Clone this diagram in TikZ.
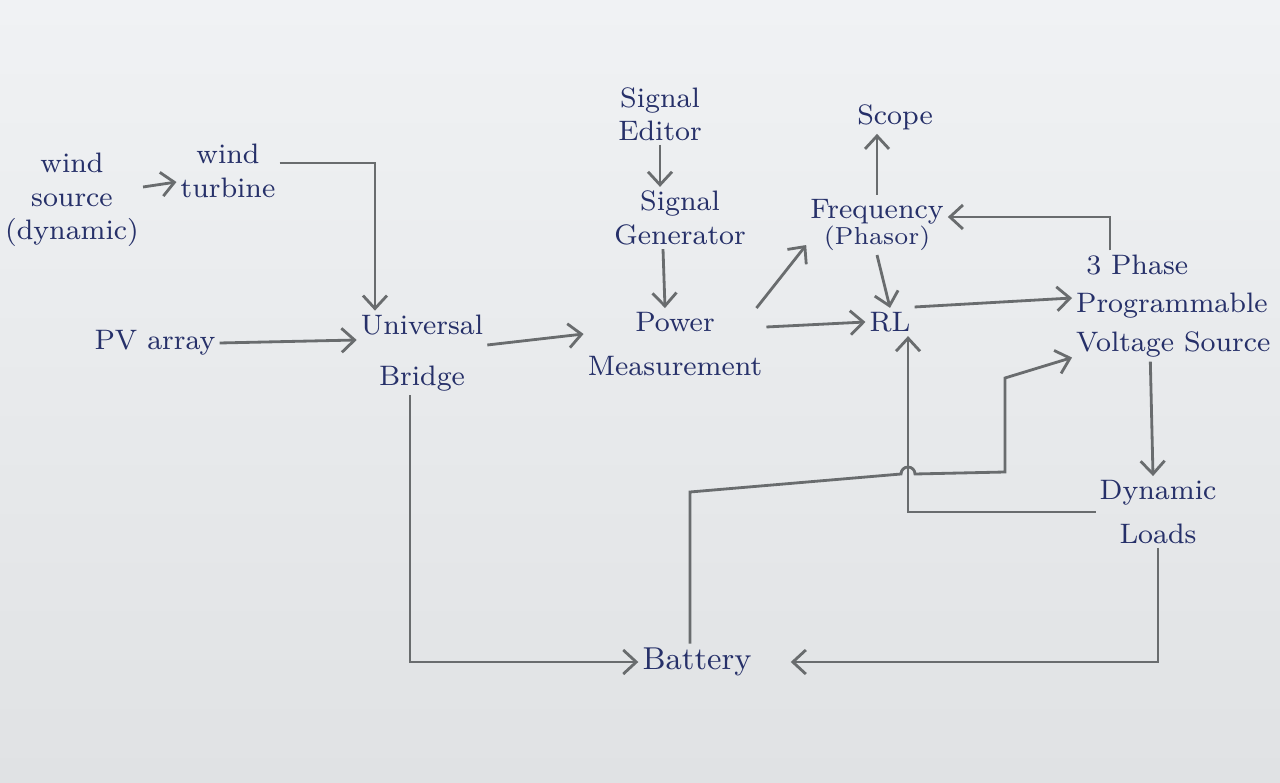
\documentclass[tikz,border=0pt]{standalone}
\usetikzlibrary{arrows.meta}
\definecolor{ink}{RGB}{38,48,105}
\definecolor{pencil}{RGB}{105,108,110}
\definecolor{paperhi}{RGB}{240,242,244}
\definecolor{paperlo}{RGB}{224,226,228}

\begin{document}
\begin{tikzpicture}[x = 0.01cm, y = 0.01cm,
    block/.style = {text = ink, align = center, inner sep = 1pt, font = \footnotesize},
    wire/.style = {draw = pencil, line width = 0.8pt},
    arr/.style = {wire, -{Straight Barb[length = 1.3mm, width = 2.4mm]}}]
    \shade [top color = paperhi, bottom color = paperlo] (0,0) rectangle (1280,782);
    \useasboundingbox (0,0) rectangle (1280,782);

    \node [block] (ws) at (72,582) {wind\\source\\(dynamic)};
    \node [block] (wt) at (228,611) {wind\\turbine};
    \node [block] (pv) at (155,439) {PV array};
    \node [block] (ub) at (422,429) {Universal\\[5pt]Bridge};
    \node [block] (pm) at (675,438) {Power\\[3pt]Measurement};
    \node [block] (se) at (660,668) {Signal\\Editor};
    \node [block] (sg) at (680,564) {Signal\\Generator};
    \node [block] (sc) at (895,665) {Scope};
    \node [block] (fr) at (877,557) {Frequency\\[-2pt]{\scriptsize (Phasor)}};
    \node [block] (rl) at (890,460) {RL};
    \node [block, align = left, anchor = west] (vs) at (1072,476) {\hspace{1mm}3 Phase\\[1.5pt]Programmable\\[1.5pt]Voltage Source};
    \node [block] (dl) at (1158,270) {Dynamic\\[3pt]Loads};
    \node [block, font = \small] (bat) at (697,120) {Battery};

    \draw [arr] ([yshift = 1.3mm]ws.east) -- ([yshift = -1.1mm]wt.west);
    \draw [arr] ([yshift = 0.8mm]wt.east) -| ([xshift = -4.7mm]ub.north);
    \draw [arr] (pv.east) -- ([yshift = 1.3mm]ub.west);
    \draw [arr] ([yshift = 0.8mm]ub.east) -- ([yshift = 1mm]pm.west);
    \draw [arr] (se.south) -- (se.south |- sg.north);
    \draw [arr] ([xshift = -1.7mm]sg.south) -- ([xshift = -1mm]pm.north);
    \draw [arr] ([xshift = -1mm]pm.north east) -- ([yshift = 1mm]fr.south west);
    \draw [arr] ([yshift = 1.7mm]pm.east) -- (rl.west);
    \draw [arr] (fr.north) -- (fr.north |- sc.south);
    \draw [arr] (fr.south) -- (rl.north);
    \draw [arr] ([xshift = 3.8mm]vs.north west) |- ([yshift = 0.8mm]fr.east);
    \draw [arr] ([yshift = 1.5mm]rl.east) -- ([yshift = 0.8mm]vs.west);
    \draw [arr] ([xshift = -2.3mm]vs.south) -- ([xshift = -0.5mm]dl.north);
    \draw [arr] (dl.west) -| ([xshift = 1.8mm]rl.south);
    \draw [arr] ([xshift = -1.2mm]ub.south) |- (bat.west);
    \draw [arr] (dl.south) |- ([xshift = 3.5mm]bat.east);
    \draw [arr] ([xshift = -0.7mm]bat.north) -- (690,290) -- (901,308)
        arc [start angle = 180, end angle = 0, radius = 7] -- (1005,310) -- (1005,404)
        -- ([yshift = 0.4mm]vs.south west);
\end{tikzpicture}
\end{document}
